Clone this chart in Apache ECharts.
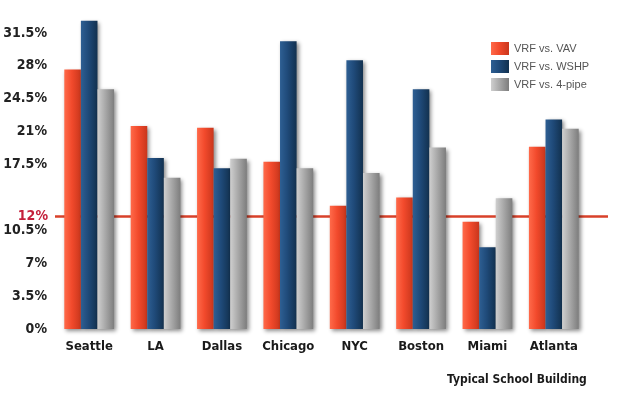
<!DOCTYPE html>
<html lang="en">
<head>
    <meta charset="UTF-8">
    <title>Typical School Building</title>
    <script src="https://cdn.jsdelivr.net/npm/echarts@6/dist/echarts.min.js"></script>
    <style>
        html, body { margin: 0; padding: 0; background: #fff; }
    </style>
</head>
<body>

<div id="app" style="width: 630px;height: 397px"></div>

<script>
    // data
    var cities = ['Seattle', 'LA', 'Dallas', 'Chicago', 'NYC', 'Boston', 'Miami', 'Atlanta'];
    var vsVav = [27.6, 21.6, 21.4, 17.8, 13.1, 14.0, 11.4, 19.4];
    var vsWshp = [32.8, 18.2, 17.1, 30.6, 28.6, 25.5, 8.7, 22.3];
    var vs4pipe = [25.5, 16.1, 18.1, 17.1, 16.6, 19.3, 13.9, 21.3];
    var seriesNames = ['VRF vs. VAV', 'VRF vs. WSHP', 'VRF vs. 4-pipe'];
    var threshold = 12;
    var hiddenTicks = [14, 35];

    var labelFont = '"DejaVu Sans Condensed", "Liberation Sans Narrow", sans-serif';

    function grad(light, mid, dark) {
        return new echarts.graphic.LinearGradient(0, 0, 1, 0, [
            { offset: 0, color: light },
            { offset: 0.45, color: mid },
            { offset: 1, color: dark }
        ]);
    }

    function barSeries(name, data, color) {
        return {
            name: name,
            type: 'bar',
            xAxisIndex: 0,
            yAxisIndex: 0,
            data: data,
            z: 5,
            barGap: '0%',
            barCategoryGap: '25%',
            itemStyle: {
                color: color,
                shadowColor: 'rgba(0,0,0,0.45)',
                shadowBlur: 4,
                shadowOffsetX: 2,
                shadowOffsetY: 2
            }
        };
    }

    var myChart = echarts.init(document.getElementById('app'));

    var option = {
        animation: false,
        color: ['#ef4a2e', '#1d4a79', '#a8a8a8'],
        legend: {
            orient: 'vertical',
            left: 486,
            top: 37,
            itemWidth: 18,
            itemHeight: 13,
            itemGap: 5,
            icon: 'rect',
            data: seriesNames,
            textStyle: {
                fontFamily: 'Liberation Sans, Arial, sans-serif',
                fontSize: 11,
                color: '#555'
            }
        },
        title: {
            text: 'Typical School Building',
            left: 442,
            bottom: 6,
            textStyle: {
                fontFamily: labelFont,
                fontSize: 12,
                fontWeight: 'bold',
                color: '#1a1a1a'
            }
        },
        grid: [
            { left: 56, right: 43, top: 0, bottom: 68 },
            { left: 55, right: 22, top: 0, bottom: 68 }
        ],
        xAxis: [
            {
                type: 'category',
                gridIndex: 0,
                data: cities,
                axisLine: { show: false },
                axisTick: { show: false },
                axisLabel: {
                    interval: 0,
                    margin: 11,
                    fontFamily: labelFont,
                    fontSize: 13,
                    fontWeight: 'bold',
                    color: '#1a1a1a'
                }
            },
            {
                type: 'value',
                gridIndex: 1,
                min: 0,
                max: 1,
                show: false
            }
        ],
        yAxis: [
            {
                type: 'value',
                gridIndex: 0,
                min: 0,
                max: 35,
                interval: 3.5,
                axisLine: { show: false },
                axisTick: { show: false },
                splitLine: { show: false },
                axisLabel: {
                    margin: 9,
                    fontFamily: labelFont,
                    fontSize: 14,
                    fontWeight: 'bold',
                    color: '#222',
                    formatter: function (v) {
                        for (var i = 0; i < hiddenTicks.length; i++) {
                            if (Math.abs(v - hiddenTicks[i]) < 1e-6) return '';
                        }
                        return v + '%';
                    }
                }
            },
            {
                type: 'value',
                gridIndex: 1,
                min: 0,
                max: 35,
                show: false
            }
        ],
        series: [
            barSeries(seriesNames[0], vsVav, grad('#ff6a4a', '#f24a2c', '#c9361c')),
            barSeries(seriesNames[1], vsWshp, grad('#2e5f93', '#1f4a79', '#12314f')),
            barSeries(seriesNames[2], vs4pipe, grad('#cfcfcf', '#aaaaaa', '#7d7d7d')),
            {
                name: 'threshold',
                type: 'line',
                xAxisIndex: 1,
                yAxisIndex: 1,
                data: [],
                z: 1,
                markLine: {
                    silent: true,
                    symbol: 'none',
                    lineStyle: { color: '#d8412a', width: 2.5, type: 'solid' },
                    label: {
                        position: 'start',
                        distance: 7,
                        formatter: threshold + '%',
                        fontFamily: labelFont,
                        fontSize: 14,
                        fontWeight: 'bold',
                        color: '#c41f3a'
                    },
                    data: [{ yAxis: threshold }]
                }
            }
        ]
    };

    myChart.setOption(option);
</script>

</body>
</html>
